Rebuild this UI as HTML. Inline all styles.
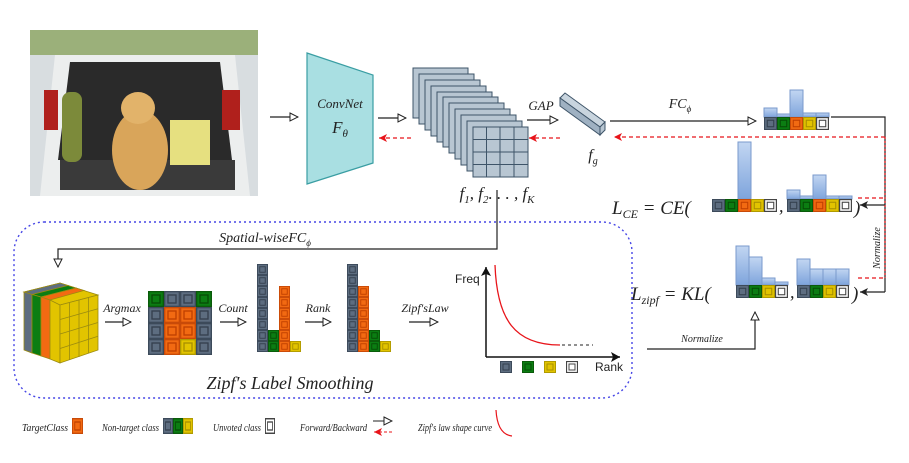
<!DOCTYPE html>
<html><head><meta charset="utf-8"><style>
body{margin:0;background:#fff}
svg text{font-family:"Liberation Serif",serif;font-style:italic;fill:#222}
</style></head><body>
<svg width="909" height="458" viewBox="0 0 909 458" xmlns="http://www.w3.org/2000/svg">
<defs>
<symbol id="cg" viewBox="0 0 12 12" preserveAspectRatio="none"><rect x="0.5" y="0.5" width="11" height="11" fill="#5d6d80" stroke="#3c4a5a"/><rect x="3" y="3" width="6" height="6" fill="none" stroke="#34404e"/></symbol>
<symbol id="cn" viewBox="0 0 12 12" preserveAspectRatio="none"><rect x="0.5" y="0.5" width="11" height="11" fill="#0b7d12" stroke="#0a5a0a"/><rect x="3" y="3" width="6" height="6" fill="none" stroke="#064d06"/></symbol>
<symbol id="co" viewBox="0 0 12 12" preserveAspectRatio="none"><rect x="0.5" y="0.5" width="11" height="11" fill="#f26a12" stroke="#c84a08"/><rect x="3" y="3" width="6" height="6" fill="none" stroke="#c04000"/></symbol>
<symbol id="cy" viewBox="0 0 12 12" preserveAspectRatio="none"><rect x="0.5" y="0.5" width="11" height="11" fill="#e2c400" stroke="#b09a00"/><rect x="3" y="3" width="6" height="6" fill="none" stroke="#a89000"/></symbol>
<symbol id="cw" viewBox="0 0 12 12" preserveAspectRatio="none"><rect x="0.5" y="0.5" width="11" height="11" fill="#fff" stroke="#444" stroke-width="1.2"/><rect x="3" y="3" width="6" height="6" fill="none" stroke="#444"/></symbol>
<linearGradient id="bl" x1="0" y1="0" x2="0" y2="1"><stop offset="0" stop-color="#c2d6f2"/><stop offset="1" stop-color="#7ea4dc"/></linearGradient>
<marker id="ho" markerWidth="10" markerHeight="10" refX="9" refY="5" orient="auto" markerUnits="userSpaceOnUse"><path d="M1,1 L9,5 L1,9 Z" fill="#fff" stroke="#222"/></marker>
<marker id="ha" markerWidth="10" markerHeight="10" refX="9" refY="5" orient="auto" markerUnits="userSpaceOnUse"><path d="M1,1 L9,5 L1,9 L3,5 Z" fill="#222"/></marker>
<marker id="hr" markerWidth="10" markerHeight="10" refX="9" refY="5" orient="auto" markerUnits="userSpaceOnUse"><path d="M1,1 L9,5 L1,9 L3,5 Z" fill="#e8141a"/></marker>
<marker id="hb" markerWidth="12" markerHeight="12" refX="10" refY="6" orient="auto" markerUnits="userSpaceOnUse"><path d="M1,1 L10,6 L1,11 L3,6 Z" fill="#111"/></marker>
</defs>

<!-- photo -->
<rect x="30" y="30" width="228" height="166" fill="#d8dde0"/>
<rect x="30" y="30" width="228" height="25" fill="#9bb07a"/>
<path d="M55,55 L235,55 L250,196 L40,196 Z" fill="#eceeee"/>
<path d="M70,62 L220,62 L232,160 L58,160 Z" fill="#2a2a2a"/>
<rect x="60" y="160" width="175" height="30" fill="#3a3a3a"/>
<rect x="62" y="92" width="20" height="70" rx="8" fill="#7c8a3a"/>
<rect x="170" y="120" width="40" height="45" fill="#e6e080"/>
<ellipse cx="140" cy="150" rx="28" ry="40" fill="#d9a55a"/>
<ellipse cx="138" cy="108" rx="17" ry="16" fill="#e2b36a"/>
<rect x="222" y="90" width="18" height="40" fill="#b0201c"/>
<rect x="44" y="90" width="14" height="40" fill="#b0201c"/>

<g stroke="#222" stroke-width="1.2" fill="none">
<line x1="270" y1="117" x2="298" y2="117" marker-end="url(#ho)"/>
<line x1="378" y1="118" x2="406" y2="118" marker-end="url(#ho)"/>
<line x1="527" y1="120" x2="558" y2="120" marker-end="url(#ho)"/>
<line x1="610" y1="121" x2="756" y2="121" marker-end="url(#ho)"/>
<polyline points="831,117 885,117 885,292"/>
<line x1="885" y1="205" x2="860" y2="205" marker-end="url(#ha)"/>
<line x1="885" y1="292" x2="860" y2="292" marker-end="url(#ha)"/>
<polyline points="647,349 755,349 755,312" marker-end="url(#ho)"/>
<polyline points="497,190 497,249 58,249 58,267" marker-end="url(#ho)"/>
<line x1="105" y1="322" x2="131" y2="322" marker-end="url(#ho)"/>
<line x1="220" y1="322" x2="246" y2="322" marker-end="url(#ho)"/>
<line x1="305" y1="322" x2="331" y2="322" marker-end="url(#ho)"/>
<line x1="409" y1="322" x2="438" y2="322" marker-end="url(#ho)"/>
</g>
<g stroke="#e8141a" stroke-width="1.2" stroke-dasharray="4,3" fill="none">
<line x1="411" y1="138" x2="379" y2="138" marker-end="url(#hr)"/>
<line x1="560" y1="138" x2="529" y2="138" marker-end="url(#hr)"/>
<line x1="885" y1="137" x2="614" y2="137" marker-end="url(#hr)"/>
<line x1="885" y1="137" x2="885" y2="278" stroke-dasharray="2,2"/>
<line x1="858" y1="198" x2="885" y2="198"/>
<line x1="858" y1="278" x2="885" y2="278"/>
</g>

<!-- ConvNet -->
<path d="M307,53 L373,75 L373,163 L307,184 Z" fill="#a9dfe2" stroke="#3a9ea3" stroke-width="1.2"/>
<text x="340" y="108" font-size="13" text-anchor="middle">ConvNet</text>
<text x="340" y="133" font-size="17" text-anchor="middle">F<tspan font-size="11" dy="4">θ</tspan></text>

<!-- feature maps -->
<g fill="#b8c6d2" stroke="#3e5468" stroke-width="1">
<rect x="413" y="68" width="55" height="50"/><rect x="419" y="74" width="55" height="50"/><rect x="425" y="80" width="55" height="50"/><rect x="431" y="86" width="55" height="50"/><rect x="437" y="92" width="55" height="50"/><rect x="443" y="97" width="55" height="50"/><rect x="449" y="103" width="55" height="50"/><rect x="455" y="109" width="55" height="50"/><rect x="461" y="115" width="55" height="50"/><rect x="467" y="121" width="55" height="50"/><rect x="473" y="127" width="55" height="50"/>
</g>
<g stroke="#3e5468" stroke-width="1"><line x1="486.5" y1="127" x2="486.5" y2="177"/><line x1="500" y1="127" x2="500" y2="177"/><line x1="514" y1="127" x2="514" y2="177"/><line x1="473" y1="139.5" x2="528" y2="139.5"/><line x1="473" y1="152" x2="528" y2="152"/><line x1="473" y1="164.5" x2="528" y2="164.5"/></g>
<text x="497" y="199" font-size="17" text-anchor="middle">f<tspan font-size="11" dy="4">1</tspan><tspan dy="-4">, f</tspan><tspan font-size="11" dy="4">2</tspan><tspan dy="-4">. . . , f</tspan><tspan font-size="11" dy="4">K</tspan></text>
<text x="541" y="110" font-size="13" text-anchor="middle">GAP</text>
<!-- fg -->
<path d="M560,98 L565,93 L605,122 L600,127 Z" fill="#c8d4de" stroke="#3e5468"/>
<path d="M560,98 L600,127 L600,135 L560,106 Z" fill="#9fb1c2" stroke="#3e5468"/>
<path d="M600,127 L605,122 L605,130 L600,135 Z" fill="#b8c6d2" stroke="#3e5468"/>
<text x="593" y="160" font-size="16" text-anchor="middle">f<tspan font-size="10" dy="4">g</tspan></text>
<text x="680" y="108" font-size="14" text-anchor="middle">FC<tspan font-size="9" dy="4">ϕ</tspan></text>

<!-- bars -->
<g fill="url(#bl)" stroke="#7a9acc" stroke-width="1">
<rect x="764" y="108" width="13" height="9"/><rect x="777" y="114" width="13" height="3"/><rect x="790" y="90" width="13" height="27"/><rect x="803" y="113" width="13" height="4"/><rect x="816" y="113" width="13" height="4"/>
<rect x="738" y="142" width="13" height="57"/>
<rect x="787" y="190" width="13" height="9"/><rect x="800" y="196" width="13" height="3"/><rect x="813" y="175" width="13" height="24"/><rect x="826" y="196" width="13" height="3"/><rect x="839" y="196" width="13" height="3"/>
<rect x="736" y="246" width="13" height="39"/><rect x="749" y="257" width="13" height="28"/><rect x="762" y="278" width="13" height="7"/><rect x="775" y="282" width="13" height="3"/>
<rect x="797" y="259" width="13" height="26"/><rect x="810" y="269" width="13" height="16"/><rect x="823" y="269" width="13" height="16"/><rect x="836" y="269" width="13" height="16"/>
</g>
<use href="#cg" x="764" y="117" width="13" height="13"/><use href="#cn" x="777" y="117" width="13" height="13"/><use href="#co" x="790" y="117" width="13" height="13"/><use href="#cy" x="803" y="117" width="13" height="13"/><use href="#cw" x="816" y="117" width="13" height="13"/>
<use href="#cg" x="712" y="199" width="13" height="13"/><use href="#cn" x="725" y="199" width="13" height="13"/><use href="#co" x="738" y="199" width="13" height="13"/><use href="#cy" x="751" y="199" width="13" height="13"/><use href="#cw" x="764" y="199" width="13" height="13"/>
<use href="#cg" x="787" y="199" width="13" height="13"/><use href="#cn" x="800" y="199" width="13" height="13"/><use href="#co" x="813" y="199" width="13" height="13"/><use href="#cy" x="826" y="199" width="13" height="13"/><use href="#cw" x="839" y="199" width="13" height="13"/>
<use href="#cg" x="736" y="285" width="13" height="13"/><use href="#cn" x="749" y="285" width="13" height="13"/><use href="#cy" x="762" y="285" width="13" height="13"/><use href="#cw" x="775" y="285" width="13" height="13"/>
<use href="#cg" x="797" y="285" width="13" height="13"/><use href="#cn" x="810" y="285" width="13" height="13"/><use href="#cy" x="823" y="285" width="13" height="13"/><use href="#cw" x="836" y="285" width="13" height="13"/>
<text x="612" y="214" font-size="19">L<tspan font-size="12" dy="4">CE</tspan><tspan dy="-4"> = CE(</tspan></text>
<text x="779" y="212" font-size="18">,</text><text x="854" y="214" font-size="19">)</text>
<text x="631" y="300" font-size="19">L<tspan font-size="12" dy="4">zipf</tspan><tspan dy="-4"> = KL(</tspan></text>
<text x="790" y="298" font-size="18">,</text><text x="852" y="300" font-size="19">)</text>
<text transform="translate(880,248) rotate(-90)" font-size="10" text-anchor="middle">Normalize</text>
<text x="702" y="342" font-size="10" text-anchor="middle">Normalize</text>

<!-- dashed box -->
<rect x="14" y="222" width="618" height="176" rx="30" fill="none" stroke="#4646e6" stroke-width="1.4" stroke-dasharray="2,3"/>
<text x="265" y="242" font-size="14" text-anchor="middle">Spatial-wiseFC<tspan font-size="9" dy="4">ϕ</tspan></text>

<!-- cube -->
<g stroke="#9a8a10" stroke-width="0.8">
<path d="M24,292 L60,283 L98,295 L60,305 Z" fill="#e2c400"/>
<path d="M24,292 L60,283 L68,285.5 L32,294.5 Z" fill="#5d6d80"/>
<path d="M32,294.5 L68,285.5 L76,288 L41,297 Z" fill="#0b7d12"/>
<path d="M41,297 L76,288 L84,290.5 L50,300 Z" fill="#f26a12"/>
<path d="M24,292 L32,294.5 L32,353 L24,350 Z" fill="#5d6d80"/>
<path d="M32,294.5 L41,297 L41,356 L32,353 Z" fill="#0b7d12"/>
<path d="M41,297 L50,300 L50,359 L41,356 Z" fill="#f26a12"/>
<path d="M50,300 L60,305 L60,363 L50,359 Z" fill="#e2c400"/>
<path d="M60,305 L98,295 L98,350 L60,363 Z" fill="#e2c400"/>
<path d="M69.5,302.5 L69.5,360 M79,300 L79,357 M88.5,297.5 L88.5,353.5 M60,319.5 L98,308.75 M60,334 L98,322.5 M60,348.5 L98,336.25" fill="none"/>
</g>
<text x="122" y="312" font-size="12" text-anchor="middle">Argmax</text>
<!-- grid -->
<g>
<use href="#cn" x="148" y="291" width="16" height="16"/><use href="#cg" x="164" y="291" width="16" height="16"/><use href="#cg" x="180" y="291" width="16" height="16"/><use href="#cn" x="196" y="291" width="16" height="16"/>
<use href="#cg" x="148" y="307" width="16" height="16"/><use href="#co" x="164" y="307" width="16" height="16"/><use href="#co" x="180" y="307" width="16" height="16"/><use href="#cg" x="196" y="307" width="16" height="16"/>
<use href="#cg" x="148" y="323" width="16" height="16"/><use href="#co" x="164" y="323" width="16" height="16"/><use href="#co" x="180" y="323" width="16" height="16"/><use href="#cg" x="196" y="323" width="16" height="16"/>
<use href="#cg" x="148" y="339" width="16" height="16"/><use href="#co" x="164" y="339" width="16" height="16"/><use href="#cy" x="180" y="339" width="16" height="16"/><use href="#cg" x="196" y="339" width="16" height="16"/>
</g>
<text x="233" y="312" font-size="12" text-anchor="middle">Count</text>
<text x="318" y="312" font-size="12" text-anchor="middle">Rank</text>
<text x="425" y="312" font-size="12" text-anchor="middle">Zipf′sLaw</text>
<!-- count bars -->
<g>
<use href="#cg" x="257" y="264" width="11" height="11"/><use href="#cg" x="257" y="275" width="11" height="11"/><use href="#cg" x="257" y="286" width="11" height="11"/><use href="#cg" x="257" y="297" width="11" height="11"/><use href="#cg" x="257" y="308" width="11" height="11"/><use href="#cg" x="257" y="319" width="11" height="11"/><use href="#cg" x="257" y="330" width="11" height="11"/><use href="#cg" x="257" y="341" width="11" height="11"/>
<use href="#cn" x="268" y="330" width="11" height="11"/><use href="#cn" x="268" y="341" width="11" height="11"/>
<use href="#co" x="279" y="286" width="11" height="11"/><use href="#co" x="279" y="297" width="11" height="11"/><use href="#co" x="279" y="308" width="11" height="11"/><use href="#co" x="279" y="319" width="11" height="11"/><use href="#co" x="279" y="330" width="11" height="11"/><use href="#co" x="279" y="341" width="11" height="11"/>
<use href="#cy" x="290" y="341" width="11" height="11"/>
<use href="#cg" x="347" y="264" width="11" height="11"/><use href="#cg" x="347" y="275" width="11" height="11"/><use href="#cg" x="347" y="286" width="11" height="11"/><use href="#cg" x="347" y="297" width="11" height="11"/><use href="#cg" x="347" y="308" width="11" height="11"/><use href="#cg" x="347" y="319" width="11" height="11"/><use href="#cg" x="347" y="330" width="11" height="11"/><use href="#cg" x="347" y="341" width="11" height="11"/>
<use href="#co" x="358" y="286" width="11" height="11"/><use href="#co" x="358" y="297" width="11" height="11"/><use href="#co" x="358" y="308" width="11" height="11"/><use href="#co" x="358" y="319" width="11" height="11"/><use href="#co" x="358" y="330" width="11" height="11"/><use href="#co" x="358" y="341" width="11" height="11"/>
<use href="#cn" x="369" y="330" width="11" height="11"/><use href="#cn" x="369" y="341" width="11" height="11"/>
<use href="#cy" x="380" y="341" width="11" height="11"/>
</g>
<!-- chart -->
<line x1="486" y1="357" x2="486" y2="267" stroke="#111" stroke-width="1.5" marker-end="url(#hb)"/>
<line x1="486" y1="357" x2="620" y2="357" stroke="#111" stroke-width="1.5" marker-end="url(#hb)"/>
<path d="M495,265 C497,320 515,345 560,345" fill="none" stroke="#e8141a" stroke-width="1.3"/>
<line x1="562" y1="345" x2="593" y2="345" stroke="#222" stroke-dasharray="3,3"/>
<text x="455" y="283" font-size="12" style="font-family:'Liberation Sans',sans-serif;font-style:normal">Freq</text>
<text x="595" y="371" font-size="12" style="font-family:'Liberation Sans',sans-serif;font-style:normal">Rank</text>
<use href="#cg" x="500" y="361" width="12" height="12"/><use href="#cn" x="522" y="361" width="12" height="12"/><use href="#cy" x="544" y="361" width="12" height="12"/><use href="#cw" x="566" y="361" width="12" height="12"/>
<text x="290" y="389" font-size="18" text-anchor="middle">Zipf′s Label Smoothing</text>

<!-- legend -->
<text x="22" y="431" font-size="11" textLength="46" lengthAdjust="spacingAndGlyphs">TargetClass</text>
<use href="#co" x="72" y="418" width="11" height="16"/>
<text x="102" y="431" font-size="11" textLength="57" lengthAdjust="spacingAndGlyphs">Non-target class</text>
<use href="#cg" x="163" y="418" width="10" height="16"/><use href="#cn" x="173" y="418" width="10" height="16"/><use href="#cy" x="183" y="418" width="10" height="16"/>
<text x="213" y="431" font-size="11" textLength="48" lengthAdjust="spacingAndGlyphs">Unvoted class</text>
<use href="#cw" x="265" y="418" width="10" height="16"/>
<text x="300" y="431" font-size="11" textLength="67" lengthAdjust="spacingAndGlyphs">Forward/Backward</text>
<line x1="373" y1="421" x2="392" y2="421" stroke="#222" marker-end="url(#ho)"/>
<line x1="392" y1="432" x2="374" y2="432" stroke="#e8141a" stroke-dasharray="3,2" marker-end="url(#hr)"/>
<text x="418" y="431" font-size="11" textLength="74" lengthAdjust="spacingAndGlyphs">Zipf′s law shape curve</text>
<path d="M496,410 C497,428 503,435 512,436" fill="none" stroke="#e8141a" stroke-width="1.2"/>
</svg>
</body></html>
